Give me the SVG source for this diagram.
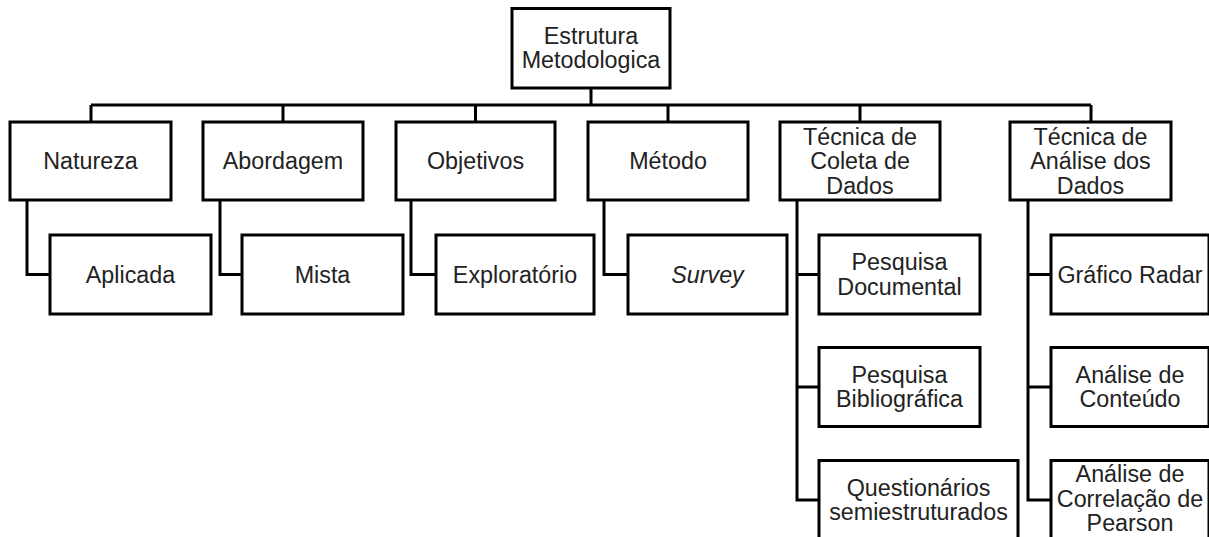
<svg xmlns="http://www.w3.org/2000/svg" width="1209" height="537" viewBox="0 0 1209 537">
<style>
.box{fill:#fff;stroke:#000;stroke-width:3}
.ln{fill:none;stroke:#000;stroke-width:3;stroke-linejoin:miter}
text{font-family:"Liberation Sans",Arial,sans-serif;font-size:23.3px;fill:#222;text-anchor:middle}
.it{font-style:italic}
</style>
<rect width="1209" height="537" fill="#fff"/>
<g id="connectors">
<path class="ln" d="M591 88V105M91 105H1091M91 105V122M283 105V122M475.5 105V122M668 105V122M860 105V122M1091 105V122"/>
<path class="ln" d="M27 200V274.5H50M220 200V274.5H242M411 200V274.5H436M604 200V274.5H628"/>
<path class="ln" d="M797 200V500H819M797 274.5H819M797 387H819"/>
<path class="ln" d="M1028 200V500H1051M1028 274.5H1051M1028 387H1051"/>
</g>
<g id="root"><rect class="box" x="512" y="8.5" width="158" height="79.5"/><text x="591" y="44">Estrutura</text><text x="591" y="67.5">Metodologica</text></g>
<g id="natureza"><rect class="box" x="10" y="122" width="161" height="78"/><text x="90.5" y="169">Natureza</text></g>
<g id="abordagem"><rect class="box" x="203" y="122" width="160" height="78"/><text x="283" y="169">Abordagem</text></g>
<g id="objetivos"><rect class="box" x="396" y="122" width="159" height="78"/><text x="475.5" y="169">Objetivos</text></g>
<g id="metodo"><rect class="box" x="588" y="122" width="160" height="78"/><text x="668" y="169">Método</text></g>
<g id="coleta"><rect class="box" x="780" y="122" width="160" height="78"/><text x="860" y="144.5">Técnica de</text><text x="860" y="169">Coleta de</text><text x="860" y="193.5">Dados</text></g>
<g id="analise"><rect class="box" x="1010" y="122" width="161" height="78"/><text x="1090.5" y="144.5">Técnica de</text><text x="1090.5" y="169">Análise dos</text><text x="1090.5" y="193.5">Dados</text></g>
<g id="aplicada"><rect class="box" x="50" y="235" width="161" height="79"/><text x="130.5" y="282.5">Aplicada</text></g>
<g id="mista"><rect class="box" x="242" y="235" width="161" height="79"/><text x="322.5" y="282.5">Mista</text></g>
<g id="exploratorio"><rect class="box" x="436" y="235" width="158" height="79"/><text x="515" y="282.5">Exploratório</text></g>
<g id="survey"><rect class="box" x="628" y="235" width="159" height="79"/><text class="it" x="707.5" y="282.5">Survey</text></g>
<g id="documental"><rect class="box" x="819" y="235" width="161" height="79"/><text x="899.5" y="270">Pesquisa</text><text x="899.5" y="294.5">Documental</text></g>
<g id="bibliografica"><rect class="box" x="819" y="347.5" width="161" height="79"/><text x="899.5" y="383">Pesquisa</text><text x="899.5" y="407">Bibliográfica</text></g>
<g id="questionarios"><rect class="box" x="819" y="460.5" width="199" height="79"/><text x="918.5" y="496">Questionários</text><text x="918.5" y="520">semiestruturados</text></g>
<g id="radar"><rect class="box" x="1051" y="235" width="158" height="79"/><text x="1130" y="282.5">Gráfico Radar</text></g>
<g id="conteudo"><rect class="box" x="1051" y="347.5" width="158" height="79"/><text x="1130" y="383">Análise de</text><text x="1130" y="407">Conteúdo</text></g>
<g id="correlacao"><rect class="box" x="1051" y="460.5" width="158" height="79"/><text x="1130" y="482">Análise de</text><text x="1130" y="506.5">Correlação de</text><text x="1130" y="531">Pearson</text></g>
</svg>
